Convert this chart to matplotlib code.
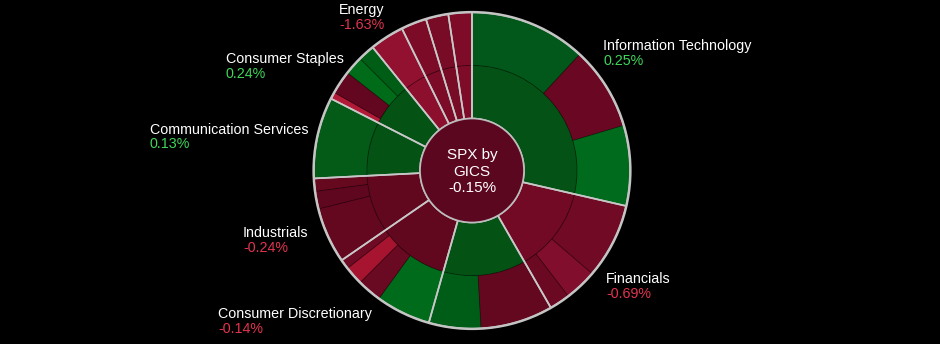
import matplotlib
matplotlib.use("Agg")
import matplotlib.pyplot as plt
from matplotlib.patches import Circle

# ---- data -------------------------------------------------------------
index_title = "SPX by\nGICS"
index_return = -0.15

sectors = ["Information Technology", "Financials", "Health Care",
           "Consumer Discretionary", "Industrials", "Communication Services",
           "Consumer Staples", "Energy", "Utilities", "Materials", "Real Estate"]

# index weight (%) of each industry, grouped by sector, clockwise from 12 o'clock
industry_weights = [
    [11.9, 8.5, 8.2],          # Information Technology
    [7.7, 3.3, 2.1],           # Financials
    [7.4, 5.3],                # Health Care
    [5.6, 2.5, 1.9, 1.0],      # Consumer Discretionary
    [5.7, 1.8, 1.3],           # Industrials
    [8.3],                     # Communication Services
    [0.7, 2.4, 1.9, 1.7],      # Consumer Staples
    [3.5],                     # Energy
    [2.6],                     # Utilities
    [2.3],                     # Materials
    [2.4],                     # Real Estate
]

labelled_sectors = ["Energy", "Consumer Staples", "Communication Services",
                    "Industrials", "Consumer Discretionary",
                    "Information Technology", "Financials"]
labelled_returns = [-1.63, 0.24, 0.13, -0.24, -0.14, 0.25, -0.69]

# ---- styling ------------------------------------------------------------
industry_colors = [
    ["#02581a", "#6a0823", "#006b1c"],
    ["#700a25", "#800e2c", "#6b0923"],
    ["#63081f", "#005d18"],
    ["#006c1b", "#6a0922", "#a6142f", "#6e0a24"],
    ["#64081f", "#5f071e", "#66091f"],
    ["#045a17"],
    ["#b21a38", "#62071f", "#006c19", "#005d16"],
    ["#921131"],
    ["#7b0b27"],
    ["#780b26"],
    ["#7e0c28"],
]
sector_colors = ["#045215", "#720a25", "#045315", "#61081f", "#61081f",
                 "#045315", "#045315", "#8d0f2e", "#7b0b27", "#780b26",
                 "#7e0c28"]
center_color = "#5c0720"
up_color, down_color = "#3fd65a", "#e3344f"

# label anchors: (left x, baseline y) in pixels from the top-left corner
label_anchor = {
    "Energy": (339, 14),
    "Consumer Staples": (226, 63),
    "Communication Services": (150, 133.5),
    "Industrials": (243, 237),
    "Consumer Discretionary": (218, 318),
    "Information Technology": (603, 50),
    "Financials": (606, 283),
}

plt.rcParams['font.family'] = ['Liberation Sans', 'DejaVu Sans']

W, H = 940, 344
fig = plt.figure(figsize=(W / 100, H / 100), dpi=100, facecolor="black")
ax = fig.add_axes([0, 0, 1, 1])
ax.set_facecolor("black")

cx, cy = 472, H - 170.5
R_OUT, R_MID, R_IN = 158, 105, 52

flat_weights = [w for grp in industry_weights for w in grp]
flat_colors = [c for grp in industry_colors for c in grp]
sector_weights = [sum(grp) for grp in industry_weights]

thin_edge = (0, 0, 0, 0.22)

# outer ring: industries
ax.pie(flat_weights, radius=R_OUT, center=(cx, cy), startangle=90,
       counterclock=False, colors=flat_colors, normalize=True,
       wedgeprops=dict(width=R_OUT - R_MID, edgecolor=thin_edge, linewidth=0.7))

# inner ring: sectors
ax.pie(sector_weights, radius=R_MID, center=(cx, cy), startangle=90,
       counterclock=False, colors=sector_colors, normalize=True,
       wedgeprops=dict(width=R_MID - R_IN, edgecolor=thin_edge, linewidth=0.7))

# sector dividers across both rings
ax.pie(sector_weights, radius=R_OUT, center=(cx, cy), startangle=90,
       counterclock=False, normalize=True,
       wedgeprops=dict(width=R_OUT - R_IN, fill=False, edgecolor="#c8c8c8",
                       linewidth=1.2))

# outer rim
ax.add_patch(Circle((cx, cy), R_OUT + 0.5, fill=False, edgecolor="#c4c4c4",
                    linewidth=1.6, zorder=4))

# centre disc
ax.add_patch(Circle((cx, cy), R_IN, facecolor=center_color,
                    edgecolor="#bdbdbd", linewidth=1.2, zorder=5))
ax.text(cx, cy - 1, f"{index_title}\n{index_return:.2f}%", color="white",
        fontsize=11, ha="center", va="center", linespacing=1.25, zorder=6)

# sector labels
for name, ret in zip(labelled_sectors, labelled_returns):
    x, yb = label_anchor[name]
    ax.text(x, H - yb, name, color="white", fontsize=10.3,
            ha="left", va="baseline")
    ax.text(x, H - yb - 15, f"{ret:.2f}%",
            color=up_color if ret >= 0 else down_color, fontsize=10.3,
            ha="left", va="baseline")

ax.set_xlim(0, W)
ax.set_ylim(0, H)
ax.set_aspect("equal")
ax.axis("off")

fig.savefig("out.png", dpi=100, facecolor="black")
